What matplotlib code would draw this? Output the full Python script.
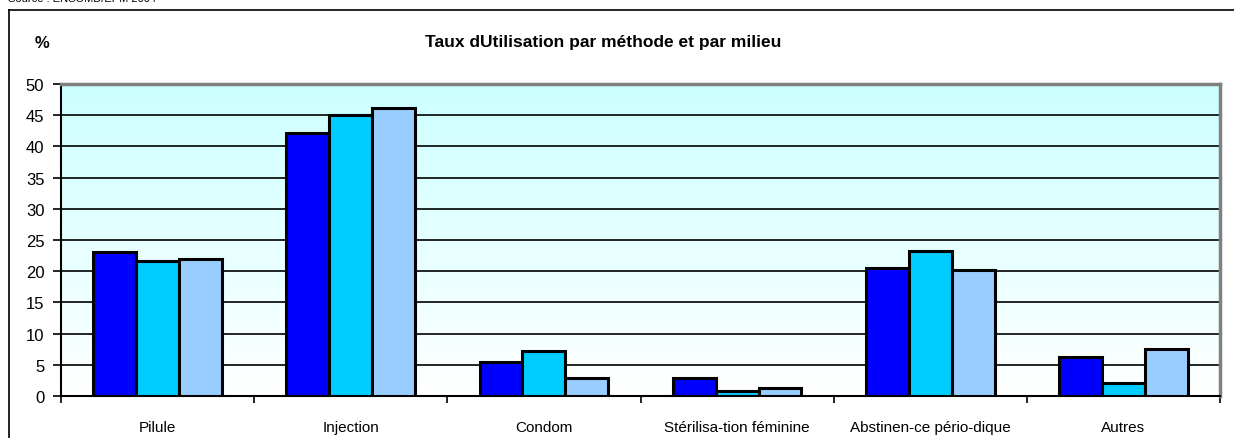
import numpy as np
import matplotlib.pyplot as plt
from matplotlib.lines import Line2D
from matplotlib.colors import LinearSegmentedColormap

plt.rcParams['font.family'] = ['Liberation Sans', 'DejaVu Sans']

categories = ["Pilule", "Injection", "Condom", "Stérilisa-tion féminine",
              "Abstinen-ce pério-dique", "Autres"]
serie1 = [23.0, 42.2, 5.4, 2.9, 20.5, 6.3]
serie2 = [21.7, 45.0, 7.2, 0.8, 23.2, 2.1]
serie3 = [22.0, 46.2, 2.9, 1.35, 20.2, 7.5]
colors = ['#0000FF', '#00CCFF', '#99CCFF']
yticks = list(range(0, 55, 5))

fig = plt.figure(figsize=(12.34, 4.39), dpi=100)
ax = fig.add_axes([61/1234, 1-397/439, (1220-61)/1234, (397-85)/439])

# background gradient (light cyan on top, white at bottom)
cmap = LinearSegmentedColormap.from_list('bg', ['#FFFFFF', '#CCFFFF'])
grad = np.linspace(0, 1, 256).reshape(-1, 1)
ax.imshow(grad, aspect='auto', cmap=cmap, origin='lower',
          extent=[0, len(categories), 0, 50], zorder=0)

x = np.arange(len(categories)) + 0.5
w = 1 / 4.5
for i, vals in enumerate([serie1, serie2, serie3]):
    ax.bar(x + (i - 1) * w, vals, w, color=colors[i], edgecolor='black',
           linewidth=2.2, zorder=3)

ax.set_xlim(0, len(categories))
ax.set_ylim(0, 50)
ax.set_yticks(yticks)
ax.tick_params(axis='y', labelsize=12, length=6, width=1.2, direction='out',
               pad=6)
ax.set_xticks(np.arange(len(categories) + 1))
ax.set_xticklabels([])
ax.set_xticks(x, minor=True)
ax.set_xticklabels(categories, minor=True)
ax.tick_params(axis='x', which='minor', length=0, pad=17, labelsize=11)
ax.tick_params(axis='x', which='major', length=5, width=1.2, direction='out')
ax.yaxis.grid(True, color='black', linewidth=1.2, zorder=1)
ax.set_axisbelow(True)

ax.spines['left'].set_linewidth(1.5)
ax.spines['bottom'].set_linewidth(1.5)
ax.spines['top'].set_color('#808080')
ax.spines['top'].set_linewidth(2.5)
ax.spines['right'].set_color('#808080')
ax.spines['right'].set_linewidth(2.5)

fig.text(603/1234, 1-42/439, "Taux dUtilisation par méthode et par milieu",
         ha='center', va='center', fontsize=12.5, fontweight='bold')
fig.text(42/1234, 1-44/439, "%", ha='center', va='center', fontsize=12,
         fontweight='bold')
fig.text(8/1234, 1+1/439, "Source : ENSOMD/EPM 2004", ha='left', va='center',
         fontsize=8)

# outer frame
fig.add_artist(Line2D([9/1234, 1], [1-11/439, 1-11/439], color='black', lw=1.2))
fig.add_artist(Line2D([9/1234, 9/1234], [1-11/439, 0], color='black', lw=1.2))

fig.savefig('out.png', dpi=100)
